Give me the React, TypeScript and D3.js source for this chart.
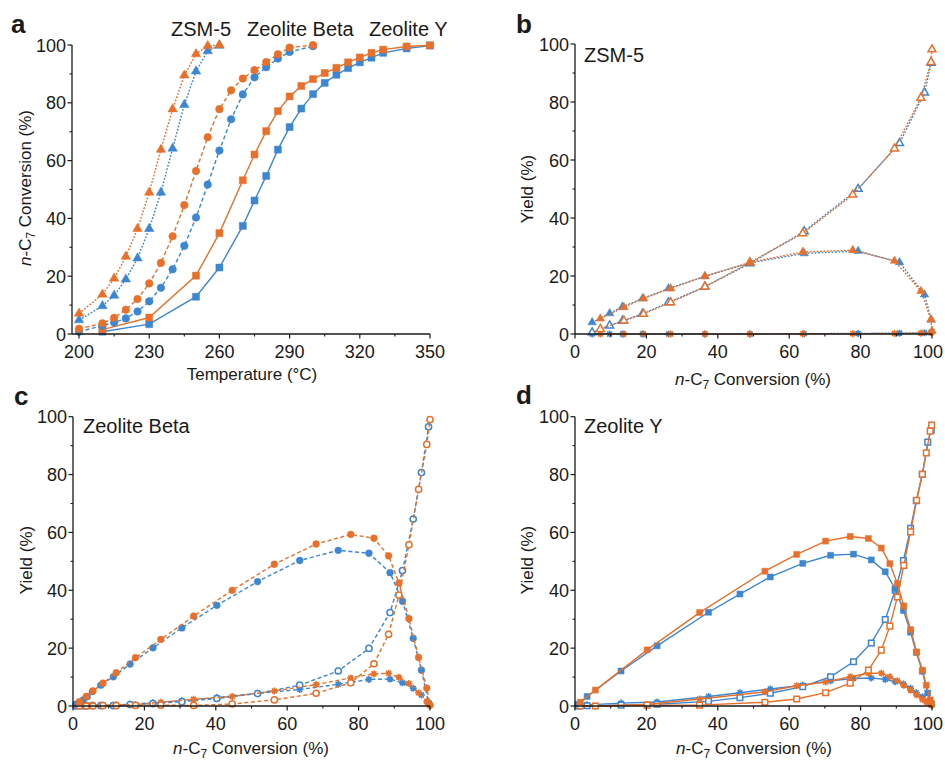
import React from 'react';
import * as d3 from 'd3';

const ORANGE = '#E8702A';
const BLUE = '#3D86D1';
const INK = '#1a1a1a';
const FONT = '"Liberation Sans", Arial, Helvetica, sans-serif';

// ---------- Panel a: conversion vs temperature ----------
const zsmTempOrange = [200, 210, 215, 220, 225, 230, 235, 240, 245, 250, 255, 260];
const zsmConvOrange = [7.1, 13.7, 19.2, 26.8, 36.4, 49.0, 63.8, 77.8, 89.5, 96.9, 99.7, 100];
const zsmTempBlue = [200, 210, 215, 220, 225, 230, 235, 240, 245, 250, 255, 260];
const zsmConvBlue = [4.8, 9.7, 13.3, 18.9, 26.2, 36.4, 49.0, 64.2, 79.3, 90.9, 97.9, 99.8];

const betaTempOrange = [200, 210, 215, 220, 225, 230, 235, 240, 245, 250, 255, 260, 265, 270, 275, 280, 285, 290, 300];
const betaConvOrange = [1.8, 3.7, 5.6, 8.4, 12.1, 17.5, 24.6, 33.8, 44.6, 56.4, 68.1, 77.8, 84.3, 88.4, 91.3, 94.1, 96.8, 99.1, 100];
const betaTempBlue = [200, 210, 215, 220, 225, 230, 235, 240, 245, 250, 255, 260, 265, 270, 275, 280, 285, 290, 300];
const betaConvBlue = [0.8, 2.9, 4.0, 5.4, 7.8, 11.3, 16.0, 22.4, 30.5, 40.3, 51.7, 63.5, 74.3, 82.9, 88.8, 92.3, 95.3, 97.6, 99.6];

const yTempOrange = [210, 230, 250, 260, 270, 275, 280, 285, 290, 295, 300, 305, 310, 315, 320, 325, 330, 340, 350];
const yConvOrange = [1.5, 5.7, 20.2, 34.9, 53.2, 62.1, 70.2, 77.1, 82.2, 85.8, 88.2, 90.3, 92.1, 94.0, 95.7, 97.3, 98.4, 99.5, 99.9];
const yTempBlue = [210, 230, 250, 260, 270, 275, 280, 285, 290, 295, 300, 305, 310, 315, 320, 325, 330, 340, 350];
const yConvBlue = [0.8, 3.4, 12.9, 23.0, 37.4, 46.2, 54.7, 63.8, 71.6, 78.0, 83.0, 86.9, 89.7, 92.0, 94.0, 95.6, 97.3, 98.8, 99.8];

// ---------- Panel b: ZSM-5 yields ----------
const zsmIsoOrange = [5.3, 9.2, 12.3, 15.7, 19.9, 24.7, 28.3, 28.9, 25.2, 14.8, 5.0, 1.0];
const zsmCrackOrange = [1.7, 4.6, 6.9, 10.9, 16.3, 24.7, 34.7, 48.0, 63.9, 81.4, 93.7, 98.1];
const zsmOtherOrange = [0, 0, 0, 0, 0, 0, 0.1, 0.1, 0.2, 0.3, 0.4, 0.8];
const zsmIsoBlue = [4.0, 7.1, 9.4, 12.2, 15.7, 19.9, 24.5, 27.8, 28.6, 24.7, 13.6, 4.9];
const zsmCrackBlue = [0.5, 2.9, 4.5, 6.9, 10.9, 16.3, 24.3, 35.4, 50.0, 65.8, 83.2, 93.5];
const zsmOtherBlue = [0, 0, 0, 0, 0, 0, 0, 0.1, 0.2, 0.3, 0.4, 0.6];

// ---------- Panel c: Zeolite Beta yields ----------
const betaIsoOrange = [1.5, 3.3, 5.2, 7.9, 11.5, 16.7, 23.0, 31.1, 40.0, 49.0, 56.0, 59.3, 58.0, 51.9, 42.5, 30.2, 16.8, 6.2, 0.3];
const betaCrackOrange = [0, 0, 0, 0.1, 0.1, 0.2, 0.3, 0.2, 0.7, 2.1, 4.4, 8.0, 14.6, 24.8, 38.3, 55.7, 74.9, 90.4, 99.0];
const betaOtherOrange = [0.1, 0.2, 0.3, 0.3, 0.4, 0.5, 1.3, 2.3, 3.3, 5.2, 7.4, 9.7, 11.1, 11.3, 9.9, 7.8, 4.6, 1.5, 0.3];
const betaIsoBlue = [0.6, 2.1, 3.2, 5.0, 7.2, 10.1, 14.5, 20.1, 27.0, 34.8, 43.0, 50.3, 53.8, 52.8, 46.1, 36.2, 23.4, 12.4, 1.1];
const betaCrackBlue = [0, 0, 0, 0.1, 0.1, 0.1, 0.5, 0.8, 1.5, 2.6, 4.3, 7.2, 12.1, 19.9, 32.3, 46.8, 64.6, 80.7, 96.5];
const betaOtherBlue = [0.1, 0.2, 0.2, 0.3, 0.3, 0.3, 0.6, 1.1, 1.8, 2.9, 4.4, 5.7, 7.5, 9.2, 9.3, 8.0, 6.1, 3.8, 0.9];

// ---------- Panel d: Zeolite Y yields ----------
const yIsoOrange = [1.3, 5.5, 19.4, 32.3, 46.6, 52.4, 57.0, 58.6, 57.9, 54.6, 49.2, 42.3, 34.6, 26.4, 18.7, 12.4, 7.2, 2.1, 0.7];
const yCrackOrange = [0, 0, 0.3, 0.3, 1.3, 2.4, 4.6, 7.9, 12.4, 19.3, 27.6, 37.7, 48.6, 60.2, 71.1, 80.1, 87.5, 95.0, 97.1];
const yOtherOrange = [0, 0, 0.5, 2.4, 4.9, 7.0, 8.3, 10.1, 11.3, 11.3, 10.1, 8.7, 7.2, 5.5, 3.8, 2.3, 1.4, 0.6, 0.2];
const yIsoBlue = [0.6, 3.3, 12.1, 20.8, 32.4, 38.7, 44.6, 49.3, 52.1, 52.5, 50.5, 46.4, 40.5, 33.0, 25.5, 18.5, 12.0, 4.5, 0.8];
const yCrackBlue = [0, 0.1, 0.3, 0.6, 1.6, 2.9, 4.4, 6.7, 10.1, 15.3, 21.8, 29.9, 40.0, 50.3, 61.4, 71.0, 80.1, 91.2, 95.4];
const yOtherBlue = [0.1, 0.4, 1.0, 1.4, 3.3, 4.6, 5.9, 7.2, 8.7, 9.5, 9.7, 9.2, 8.4, 7.6, 6.1, 4.6, 3.2, 1.5, 0.7];

// ---------- Axis ticks ----------
const tempTicks = [200, 230, 260, 290, 320, 350];
const tempMinorTicks = [215, 245, 275, 305, 335];
const pctTicks = [0, 20, 40, 60, 80, 100];
const pctMinorTicks = [10, 30, 50, 70, 90];

type Marker = 'tri' | 'circle' | 'square' | 'star';
type Series = {
  x: number[];
  y: number[];
  color: string;
  marker: Marker;
  open?: boolean;
  dash?: string;
  size: number;
};

function markerPath(kind: Marker, s: number): string {
  if (kind === 'tri') return d3.symbol(d3.symbolTriangle, (Math.sqrt(3) / 4) * s * s)() as string;
  if (kind === 'circle') return d3.symbol(d3.symbolCircle, Math.PI * (s / 2) * (s / 2))() as string;
  if (kind === 'square') return d3.symbol(d3.symbolSquare, s * s)() as string;
  const r = s / 2;
  const d = r * Math.SQRT1_2;
  return `M${-r},0L${r},0M0,${-r}L0,${r}M${-d},${-d}L${d},${d}M${-d},${d}L${d},${-d}`;
}

type PanelProps = {
  xr: [number, number];
  yr: [number, number];
  xDomain: [number, number];
  xTicks: number[];
  xMinor: number[];
  series: Series[];
};

function Panel({ xr, yr, xDomain, xTicks, xMinor, series }: PanelProps) {
  const x = d3.scaleLinear().domain(xDomain).range(xr);
  const y = d3.scaleLinear().domain([0, 100]).range(yr);
  const line = d3
    .line<[number, number]>()
    .x((d) => x(d[0]))
    .y((d) => y(d[1]));
  const axisX = xr[0];
  const axisY = yr[0];
  return (
    <g>
      {series.map((s, i) => {
        const pts = s.x.map((v, j) => [v, s.y[j]] as [number, number]);
        const path = markerPath(s.marker, s.size);
        return (
          <g key={i}>
            <path d={line(pts) || ''} fill="none" stroke={s.color} strokeWidth={1.4} strokeDasharray={s.dash} />
            {pts.map((p, j) =>
              s.marker === 'star' ? (
                <path
                  key={j}
                  d={path}
                  transform={`translate(${x(p[0])},${y(p[1])})`}
                  fill="none"
                  stroke={s.color}
                  strokeWidth={1.6}
                />
              ) : (
                <path
                  key={j}
                  d={path}
                  transform={`translate(${x(p[0])},${y(p[1])})`}
                  fill={s.open ? '#fff' : s.color}
                  stroke={s.color}
                  strokeWidth={s.open ? 1.5 : 0.5}
                />
              )
            )}
          </g>
        );
      })}
      {/* axes */}
      <line x1={axisX} x2={axisX} y1={yr[0]} y2={yr[1]} stroke={INK} strokeWidth={1.3} />
      <line x1={xr[0]} x2={xr[1]} y1={axisY} y2={axisY} stroke={INK} strokeWidth={1.3} />
      {pctTicks.map((t) => (
        <g key={'yt' + t}>
          <line x1={axisX - 4.5} x2={axisX} y1={y(t)} y2={y(t)} stroke={INK} strokeWidth={1.2} />
          <text x={axisX - 6} y={y(t) + 6.5} textAnchor="end" fontSize={18} fill={INK}>
            {t}
          </text>
        </g>
      ))}
      {pctMinorTicks.map((t) => (
        <line key={'ym' + t} x1={axisX - 2.5} x2={axisX} y1={y(t)} y2={y(t)} stroke={INK} strokeWidth={1.1} />
      ))}
      {xTicks.map((t) => (
        <g key={'xt' + t}>
          <line x1={x(t)} x2={x(t)} y1={axisY} y2={axisY + 4.5} stroke={INK} strokeWidth={1.2} />
          <text x={Math.min(x(t), 928)} y={axisY + 23.5} textAnchor="middle" fontSize={18} fill={INK}>
            {t}
          </text>
        </g>
      ))}
      {xMinor.map((t) => (
        <line key={'xm' + t} x1={x(t)} x2={x(t)} y1={axisY} y2={axisY + 2.5} stroke={INK} strokeWidth={1.1} />
      ))}
    </g>
  );
}

function ConvLabel({ x, y, rotate }: { x: number; y: number; rotate?: boolean }) {
  return (
    <text
      x={rotate ? 0 : x}
      y={rotate ? 0 : y}
      transform={rotate ? `translate(${x},${y}) rotate(-90)` : undefined}
      textAnchor="middle"
      fontSize={17}
      fill={INK}
    >
      <tspan fontStyle="italic">n</tspan>
      <tspan>-C</tspan>
      <tspan dy={4} fontSize={12}>7</tspan>
      <tspan dy={-4}> Conversion (%)</tspan>
    </text>
  );
}

function mk(x: number[], y: number[], color: string, marker: Marker, size: number, dash?: string, open?: boolean): Series {
  return { x, y, color, marker, size, dash, open };
}

export default function App() {
  const dot = '1.8,1.6';
  const dash = '4,2.6';

  const seriesA: Series[] = [
    mk(yTempBlue, yConvBlue, BLUE, 'square', 7),
    mk(yTempOrange, yConvOrange, ORANGE, 'square', 7),
    mk(betaTempBlue, betaConvBlue, BLUE, 'circle', 7.6, dash),
    mk(betaTempOrange, betaConvOrange, ORANGE, 'circle', 7.6, dash),
    mk(zsmTempBlue, zsmConvBlue, BLUE, 'tri', 9.5, dot),
    mk(zsmTempOrange, zsmConvOrange, ORANGE, 'tri', 9.5, dot),
  ];
  const seriesB: Series[] = [
    mk(zsmConvBlue, zsmOtherBlue, BLUE, 'star', 7, dot),
    mk(zsmConvBlue, zsmCrackBlue, BLUE, 'tri', 8, dot, true),
    mk(zsmConvBlue, zsmIsoBlue, BLUE, 'tri', 8.5, dot),
    mk(zsmConvOrange, zsmOtherOrange, ORANGE, 'star', 7, dot),
    mk(zsmConvOrange, zsmCrackOrange, ORANGE, 'tri', 8, dot, true),
    mk(zsmConvOrange, zsmIsoOrange, ORANGE, 'tri', 8.5, dot),
  ];
  const seriesC: Series[] = [
    mk(betaConvBlue, betaOtherBlue, BLUE, 'star', 7, dash),
    mk(betaConvBlue, betaCrackBlue, BLUE, 'circle', 6.2, dash, true),
    mk(betaConvBlue, betaIsoBlue, BLUE, 'circle', 6.8, dash),
    mk(betaConvOrange, betaOtherOrange, ORANGE, 'star', 7, dash),
    mk(betaConvOrange, betaCrackOrange, ORANGE, 'circle', 6.2, dash, true),
    mk(betaConvOrange, betaIsoOrange, ORANGE, 'circle', 6.8, dash),
  ];
  const seriesD: Series[] = [
    mk(yConvBlue, yOtherBlue, BLUE, 'star', 7),
    mk(yConvBlue, yCrackBlue, BLUE, 'square', 5.6, undefined, true),
    mk(yConvBlue, yIsoBlue, BLUE, 'square', 6),
    mk(yConvOrange, yOtherOrange, ORANGE, 'star', 7),
    mk(yConvOrange, yCrackOrange, ORANGE, 'square', 5.6, undefined, true),
    mk(yConvOrange, yIsoOrange, ORANGE, 'square', 6),
  ];

  return (
    <svg
      width={945}
      height={761}
      viewBox="0 0 945 761"
      style={{ position: 'absolute', left: 0, top: 0, display: 'block', background: '#fff' }}
      fontFamily={FONT}
    >
      <rect x={0} y={0} width={945} height={761} fill="#fff" />

      {/* Panel a */}
      <Panel xr={[72, 430]} yr={[334, 45]} xDomain={[197, 350]} xTicks={tempTicks} xMinor={tempMinorTicks} series={seriesA} />
      <text x={11} y={33} fontSize={26} fontWeight="bold" fill={INK}>a</text>
      <text x={171} y={36} fontSize={20} fill={INK}>ZSM-5</text>
      <text x={247} y={36} fontSize={20} fill={INK}>Zeolite Beta</text>
      <text x={369} y={36} fontSize={20} fill={INK}>Zeolite Y</text>
      <text x={252} y={380} textAnchor="middle" fontSize={17} fill={INK}>Temperature (°C)</text>
      <ConvLabel x={31} y={188} rotate />

      {/* Panel b */}
      <Panel xr={[575, 932]} yr={[334, 44]} xDomain={[0, 100]} xTicks={pctTicks} xMinor={pctMinorTicks} series={seriesB} />
      <text x={516} y={33} fontSize={26} fontWeight="bold" fill={INK}>b</text>
      <text x={584} y={62} fontSize={20} fill={INK}>ZSM-5</text>
      <ConvLabel x={753} y={385} />
      <text transform="translate(533,189) rotate(-90)" textAnchor="middle" fontSize={17} fill={INK}>Yield (%)</text>

      {/* Panel c */}
      <Panel xr={[73, 430]} yr={[706, 416.7]} xDomain={[0, 100]} xTicks={pctTicks} xMinor={pctMinorTicks} series={seriesC} />
      <text x={14} y={405} fontSize={26} fontWeight="bold" fill={INK}>c</text>
      <text x={83} y={433} fontSize={20} fill={INK}>Zeolite Beta</text>
      <ConvLabel x={251} y={754} />
      <text transform="translate(32,560) rotate(-90)" textAnchor="middle" fontSize={17} fill={INK}>Yield (%)</text>

      {/* Panel d */}
      <Panel xr={[575, 932]} yr={[706, 416.7]} xDomain={[0, 100]} xTicks={pctTicks} xMinor={pctMinorTicks} series={seriesD} />
      <text x={516} y={404} fontSize={26} fontWeight="bold" fill={INK}>d</text>
      <text x={584} y={433} fontSize={20} fill={INK}>Zeolite Y</text>
      <ConvLabel x={754} y={754} />
      <text transform="translate(533,560) rotate(-90)" textAnchor="middle" fontSize={17} fill={INK}>Yield (%)</text>
    </svg>
  );
}
